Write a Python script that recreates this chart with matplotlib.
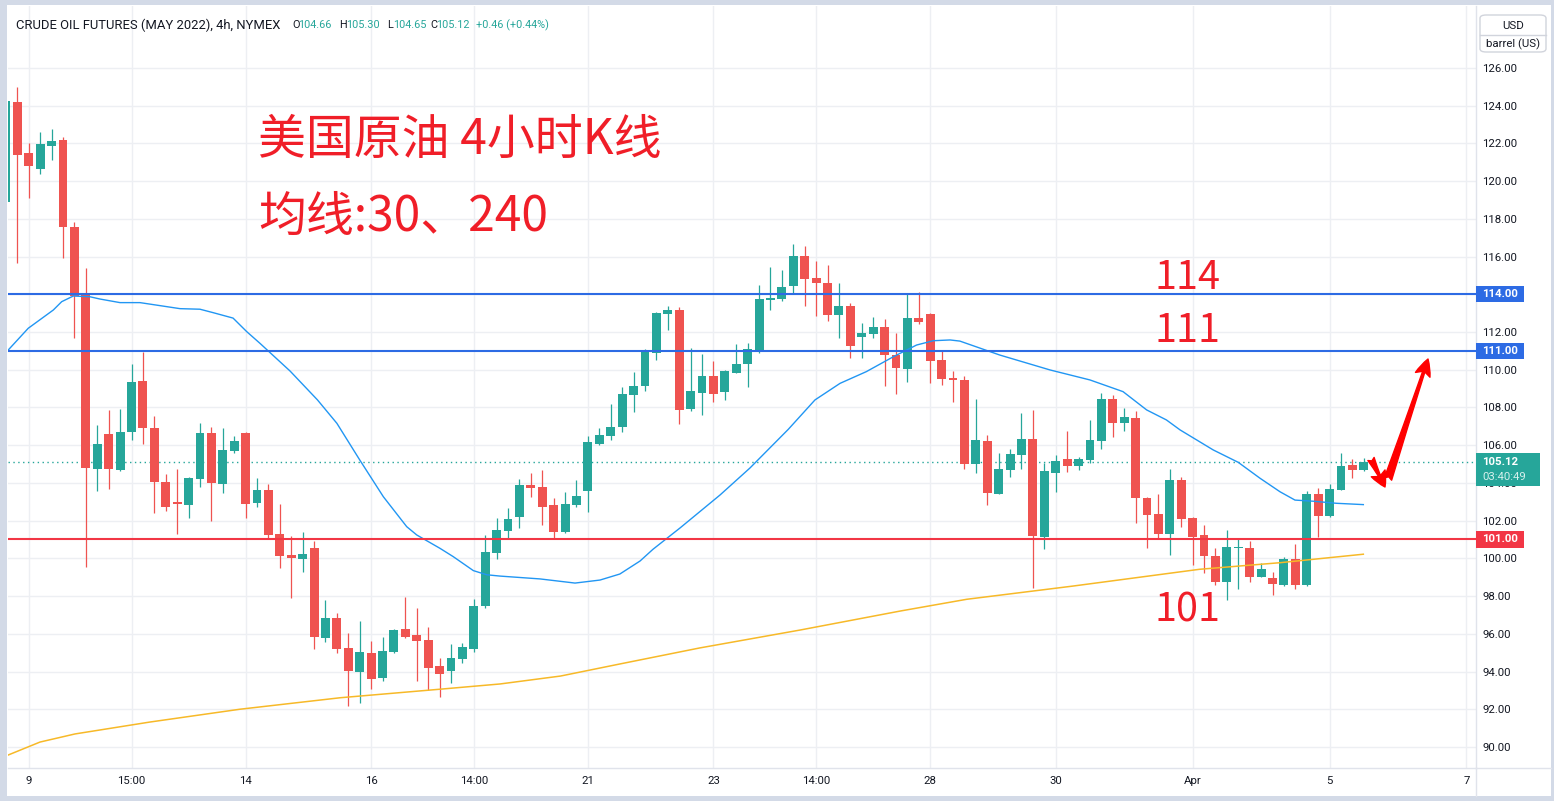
import matplotlib
matplotlib.use("Agg")
import matplotlib.pyplot as plt
import matplotlib.transforms as mtransforms
from matplotlib.patches import Rectangle, FancyBboxPatch, FancyArrowPatch
from matplotlib.lines import Line2D

plt.rcParams['font.family'] = ['Roboto', 'DejaVu Sans']

W, H = 1554, 801
UP, DOWN = '#26A69A', '#EF5350'
TXT = '#131722'
BLUE_LVL = '#2D6BE4'
RED_LVL = '#F23645'
ANN_RED = '#F01E28'

# ---------------- data (4h candles) ----------------
opens = [118.90, 124.20, 121.49, 120.66, 121.88, 122.18, 117.57, 114.03, 104.75, 106.59,
         104.70, 106.72, 109.40, 106.91, 104.05, 102.99, 102.85, 104.22, 106.65, 103.96,
         105.71, 106.65, 102.95, 103.62, 101.29, 100.18, 99.98, 100.55, 95.79, 96.82,
         95.23, 93.99, 94.97, 93.67, 95.05, 96.25, 95.94, 95.67, 94.29, 94.04,
         94.68, 95.21, 97.49, 100.30, 101.47, 102.21, 103.89, 103.78, 102.83, 101.41,
         102.83, 103.59, 106.08, 106.50, 106.98, 108.68, 109.16, 110.90, 112.97, 113.17,
         107.94, 108.79, 109.67, 108.82, 109.84, 110.32, 111.06, 113.71, 113.75, 114.46,
         116.03, 114.87, 114.60, 112.92, 113.38, 111.75, 111.91, 112.27, 110.78, 110.06,
         112.74, 112.96, 110.52, 109.56, 109.46, 105.02, 106.22, 103.43, 104.70, 105.50,
         106.33, 101.15, 104.54, 105.27, 104.91, 105.23, 106.24, 108.45, 107.19, 107.44,
         103.20, 102.35, 101.31, 104.15, 102.14, 101.24, 100.13, 98.76, 100.55, 100.55,
         99.03, 98.96, 98.60, 99.97, 98.60, 103.41, 102.23, 103.62, 104.95, 104.66]
highs = [124.40, 125.01, 122.04, 122.61, 122.77, 122.34, 117.83, 115.40, 107.07, 107.87,
         107.92, 110.31, 110.96, 107.55, 104.47, 104.74, 104.31, 107.19, 106.98, 106.91,
         106.49, 106.70, 104.26, 103.94, 102.88, 101.19, 101.40, 100.90, 97.79, 97.10,
         96.04, 96.68, 95.62, 95.83, 96.24, 97.95, 97.37, 96.36, 94.73, 95.48,
         95.53, 97.85, 101.24, 102.14, 102.67, 104.21, 104.53, 104.69, 103.20, 103.52,
         104.15, 106.50, 106.93, 108.20, 109.09, 109.88, 111.08, 113.05, 113.40, 113.33,
         111.14, 110.84, 110.46, 109.99, 111.37, 111.42, 114.49, 115.45, 115.29, 116.67,
         116.56, 115.77, 115.55, 114.60, 113.54, 112.48, 112.80, 112.71, 111.95, 114.07,
         114.12, 113.00, 111.01, 109.93, 109.67, 108.45, 106.54, 105.59, 105.80, 107.71,
         107.87, 105.06, 105.48, 106.75, 105.37, 107.34, 108.77, 108.66, 107.97, 107.81,
         103.25, 103.41, 104.74, 104.31, 102.18, 101.77, 100.55, 101.50, 101.03, 100.92,
         99.75, 99.29, 100.09, 100.76, 103.57, 103.73, 103.94, 105.59, 105.27, 105.30]
lows = [118.70, 115.68, 119.12, 120.40, 121.12, 115.94, 111.70, 99.56, 103.59, 103.69,
        104.65, 106.29, 106.08, 102.42, 102.53, 101.31, 102.16, 103.80, 102.00, 103.48,
        105.60, 102.16, 102.74, 101.10, 99.50, 97.91, 99.29, 95.18, 95.58, 95.00,
        92.19, 92.35, 93.09, 93.51, 95.00, 95.79, 93.51, 93.04, 92.67, 93.41,
        94.47, 95.05, 97.38, 99.98, 101.06, 101.63, 103.27, 101.79, 101.06, 101.36,
        102.74, 102.48, 106.03, 106.29, 106.72, 107.78, 108.89, 110.53, 112.12, 107.14,
        107.83, 107.62, 108.31, 108.41, 109.84, 109.10, 110.90, 113.18, 113.65, 114.07,
        113.40, 112.87, 112.60, 111.70, 110.64, 110.64, 111.70, 109.15, 108.73, 109.37,
        112.44, 109.31, 109.21, 108.31, 104.75, 104.54, 102.85, 103.43, 104.33, 104.75,
        98.44, 100.51, 103.53, 104.59, 104.70, 105.07, 105.81, 106.45, 106.75, 101.89,
        100.56, 101.10, 100.20, 101.68, 99.66, 99.24, 98.60, 97.81, 98.39, 98.76,
        99.00, 98.07, 98.55, 98.39, 98.55, 101.15, 102.18, 103.60, 104.28, 104.65]
closes = [124.25, 121.40, 120.80, 121.97, 122.13, 117.59, 113.93, 104.81, 106.06, 104.75,
          106.70, 109.35, 106.93, 104.07, 102.74, 102.88, 104.26, 106.65, 104.01, 105.75,
          106.22, 102.90, 103.62, 101.25, 100.14, 100.03, 100.23, 95.85, 96.82, 95.21,
          94.04, 95.02, 93.62, 95.09, 96.20, 95.85, 95.64, 94.20, 93.88, 94.72,
          95.30, 97.47, 100.34, 101.50, 102.09, 103.89, 103.75, 102.74, 101.41, 102.88,
          103.31, 106.17, 106.54, 106.98, 108.71, 109.14, 111.00, 113.01, 113.17, 107.89,
          108.86, 109.67, 108.73, 109.93, 110.31, 111.10, 113.75, 113.80, 114.39, 116.03,
          114.83, 114.62, 112.92, 113.38, 111.28, 111.95, 112.27, 110.80, 110.11, 112.74,
          112.55, 110.48, 109.53, 109.46, 105.02, 106.28, 103.48, 104.74, 105.53, 106.33,
          101.20, 104.63, 105.16, 104.91, 105.27, 106.28, 108.45, 107.19, 107.50, 103.22,
          102.32, 101.31, 104.15, 102.10, 101.15, 100.14, 98.76, 100.60, 100.62, 99.03,
          99.44, 98.66, 99.97, 98.60, 103.41, 102.26, 103.68, 104.90, 104.66, 105.12]

# moving averages (candle index, price)
ma30_idx = [0.2, 1.95, 4.15, 4.88, 5.9, 7.36, 8.24, 9.99, 11.74, 13.5, 15.25, 17.0, 18.14,
            19.9, 21.1, 22.26, 24.9, 27.3, 29.0, 31.0, 33.07, 35.12, 36.0, 38.04, 39.2,
            40.96, 42.13, 43.3, 46.8, 49.87, 52.06, 53.8, 55.57, 56.7, 59.07, 62.58, 65.2,
            68.56, 70.9, 73.1, 75.4, 77.77, 79.8, 81.27, 82.74, 83.6, 87.1, 91.5, 95.0,
            97.9, 99.97, 101.7, 102.9, 105.8, 108.0, 109.9, 111.66, 112.97, 114.57, 116.6, 118.96]
ma30_val = [111.05, 112.20, 113.17, 113.61, 113.91, 113.87, 113.75, 113.56, 113.56, 113.40,
            113.24, 113.21, 113.03, 112.74, 112.02, 111.40, 109.93, 108.40, 107.16, 105.22,
            103.27, 101.68, 101.24, 100.53, 100.09, 99.35, 99.13, 99.06, 98.91, 98.69,
            98.85, 99.17, 99.86, 100.48, 101.61, 103.36, 104.79, 106.84, 108.40, 109.28,
            109.90, 110.69, 111.31, 111.54, 111.58, 111.52, 110.78, 109.99, 109.46, 108.84,
            107.87, 107.34, 106.81, 105.75, 105.09, 104.25, 103.53, 103.09, 103.03, 102.92, 102.85]
ma240_idx = [0.18, 2.98, 6.05, 12.6, 20.5, 29.3, 38.0, 43.3, 48.6, 53.8, 60.8, 69.6, 78.4,
             84.2, 93.5, 104.6, 111.66, 118.96]
ma240_val = [89.57, 90.26, 90.69, 91.32, 92.00, 92.61, 93.06, 93.34, 93.76, 94.40, 95.25,
             96.20, 97.21, 97.83, 98.53, 99.42, 99.77, 100.22]

price_ticks = list(range(90, 127, 2))
time_tick_pos = [2, 11, 21, 32, 41, 51, 62, 71, 81, 92, 104, 116, 128]
time_tick_labels = ['9', '15:00', '14', '16', '14:00', '21', '23', '14:00', '28', '30', 'Apr', '5', '7']

levels_blue = [114, 111]
level_red = 101
level_labels_txt = ['114', '111', '101']
title_line1 = '美国原油 4小时K线'
title_line2 = '均线:30、240'
header_name = 'CRUDE OIL FUTURES (MAY 2022), 4h, NYMEX'
countdown = '03:40:49'

# ---------------- layout helpers ----------------
X0, DX = 6.0, 11.41        # pixel of candle 0, pixel per candle
Y126, PPU = 68.0, 18.86    # pixel of price 126, pixels per unit
AX_L, AX_R, AX_T, AX_B = 8, 1476, 6, 768

def fx(px):
    return px / W

def fy(py):
    return 1 - py / H

fig = plt.figure(figsize=(W / 100, H / 100), dpi=100)
fig.patch.set_facecolor('#D3DAE7')
panel = Rectangle((fx(7), fy(796)), fx(1551) - fx(7), fy(5) - fy(796),
                  transform=fig.transFigure, facecolor='white', edgecolor='none', zorder=-10)
fig.add_artist(panel)

ax = fig.add_axes([fx(AX_L), fy(AX_B), fx(AX_R) - fx(AX_L), fy(AX_T) - fy(AX_B)])
ax.set_zorder(1)
ax.set_facecolor('white')
ax.set_xlim((AX_L - X0) / DX, (AX_R - X0) / DX)
ax.set_ylim(126 - (AX_B - Y126) / PPU, 126 + (Y126 - AX_T) / PPU)

# grid & ticks
ax.set_yticks(price_ticks)
ax.set_yticklabels([f'{v:.2f}' for v in price_ticks])
ax.set_xticks(time_tick_pos)
ax.set_xticklabels(time_tick_labels)
ax.grid(True, color='#EDEFF3', lw=1.0, zorder=0)
ax.set_axisbelow(True)
ax.tick_params(axis='y', right=True, left=False, labelright=True, labelleft=False,
               length=0, pad=4.5, labelsize=8.2, labelcolor=TXT)
ax.tick_params(axis='x', length=0, pad=6, labelsize=8.2, labelcolor=TXT)
for s in ['top', 'left']:
    ax.spines[s].set_visible(False)
for s in ['right', 'bottom']:
    ax.spines[s].set_color('#E0E3EB')
    ax.spines[s].set_linewidth(1.0)
fig.add_artist(Line2D([fx(AX_R), fx(1551)], [fy(AX_B), fy(AX_B)], color='#E0E3EB', lw=1.0))
fig.add_artist(Line2D([fx(AX_R), fx(AX_R)], [fy(AX_B), fy(796)], color='#E0E3EB', lw=1.0))

# candles
idx = list(range(len(opens)))
cols = [UP if c >= o else DOWN for o, c in zip(opens, closes)]
ax.vlines(idx, lows, highs, colors=cols, lw=0.9, zorder=3)
bottoms = [min(o, c) for o, c in zip(opens, closes)]
heights = [max(abs(c - o), 0.06) for o, c in zip(opens, closes)]
ax.bar(idx, heights, bottom=bottoms, width=0.78, color=cols, edgecolor='none', zorder=4)

# moving averages
ax.plot(ma30_idx, ma30_val, color='#2196F3', lw=1.0, zorder=5)
ax.plot(ma240_idx, ma240_val, color='#F7B928', lw=1.1, zorder=5)

# levels
for lv in levels_blue:
    ax.axhline(lv, color=BLUE_LVL, lw=1.5, zorder=6)
ax.axhline(level_red, color=RED_LVL, lw=1.5, zorder=6)
last = closes[-1]
ax.axhline(last, color=UP, lw=1.0, ls=(0, (1, 2.5)), zorder=2)

# price-axis labels
blend = mtransforms.blended_transform_factory(ax.transAxes, ax.transData)
axw = AX_R - AX_L

def axis_box(price, text, color, wpx, top_px=8, bot_px=8, text2=None):
    r = Rectangle((1.0, price - bot_px / PPU), wpx / axw, (top_px + bot_px) / PPU,
                  transform=blend, facecolor=color, edgecolor='none', clip_on=False, zorder=10)
    ax.add_patch(r)
    ax.text(1.0 + 6 / axw, price, text, transform=blend, color='white', fontsize=8.2,
            fontweight='bold', va='center', ha='left', clip_on=False, zorder=11)
    if text2:
        ax.text(1.0 + 6 / axw, price - 15 / PPU, text2, transform=blend, color='#D6F0EC',
                fontsize=8.2, va='center', ha='left', clip_on=False, zorder=11)

for lv in levels_blue:
    axis_box(lv, f'{lv:.2f}', BLUE_LVL, 48)
axis_box(level_red, f'{level_red:.2f}', RED_LVL, 48)
axis_box(last, f'{last:.2f}', UP, 64, top_px=9, bot_px=24, text2=countdown)

# annotations
cjk = ['Noto Sans CJK SC', 'DejaVu Sans']
fig.text(fx(258), fy(154), title_line1, color=ANN_RED, fontsize=34.5, family=cjk,
         va='baseline', ha='left', zorder=7)
fig.text(fx(258), fy(231), title_line2, color=ANN_RED, fontsize=34.5, family=cjk,
         va='baseline', ha='left', zorder=7)
for txt, base in zip(level_labels_txt, [289, 342, 621]):
    fig.text(fx(1155), fy(base), txt, color=ANN_RED, fontsize=28.5, family=cjk,
             va='baseline', ha='left', zorder=7)

# arrows
def px2data(px, py):
    return ((px - X0) / DX, 126 - (py - Y126) / PPU)

a1 = FancyArrowPatch(px2data(1388, 479), px2data(1428, 359),
                     arrowstyle='fancy,head_length=1.2,head_width=1.1,tail_width=0.55',
                     mutation_scale=10, color='#FF0000', shrinkA=0, shrinkB=0,
                     clip_on=False, zorder=8)
a2 = FancyArrowPatch(px2data(1371, 459), px2data(1385, 487),
                     arrowstyle='fancy,head_length=1.1,head_width=1.1,tail_width=0.5',
                     mutation_scale=10, color='#FF0000', shrinkA=0, shrinkB=0,
                     clip_on=False, zorder=8)
ax.add_patch(a1)
ax.add_patch(a2)

# header legend
chg = closes[-1] - closes[-2]
pct = chg / closes[-2] * 100
hy = fy(25)
fig.text(fx(16), hy, header_name, color=TXT, fontsize=9.4, va='center', ha='left')
segs = [(292, 'O', TXT), (298, f'{opens[-1]:.2f}', UP),
        (339, 'H', TXT), (346, f'{highs[-1]:.2f}', UP),
        (387, 'L', TXT), (393, f'{lows[-1]:.2f}', UP),
        (430, 'C', TXT), (436, f'{closes[-1]:.2f}', UP),
        (476, f'{chg:+.2f} ({pct:+.2f}%)', UP)]
for x, s, c in segs:
    fig.text(fx(x), hy, s, color=c, fontsize=7.8, va='center', ha='left')

# currency box
fig.add_artist(FancyBboxPatch((fx(1480), fy(52)), fx(1546) - fx(1480), fy(15) - fy(52),
                              boxstyle='round,pad=0,rounding_size=0.004',
                              transform=fig.transFigure, facecolor='white',
                              edgecolor='#D1D4DC', lw=1.0, zorder=1))
fig.add_artist(Line2D([fx(1480), fx(1546)], [fy(35), fy(35)], color='#D1D4DC', lw=1.0, zorder=2))
fig.text(fx(1513), fy(26), 'USD', color=TXT, fontsize=8.2, ha='center', va='center', zorder=3)
fig.text(fx(1513), fy(44), 'barrel (US)', color=TXT, fontsize=8.2, ha='center', va='center', zorder=3)

fig.savefig('out.png', dpi=100)
